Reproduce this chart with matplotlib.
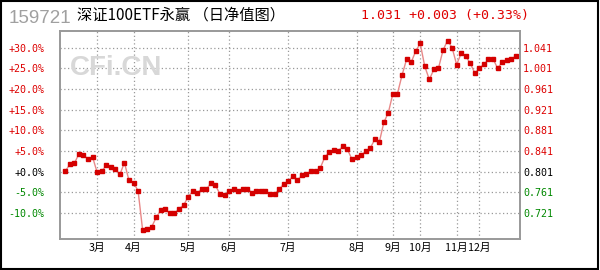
import matplotlib
matplotlib.use("Agg")
import matplotlib.pyplot as plt
from matplotlib.patches import Rectangle

# weekly NAV change (%)
pct = [0.1, 1.8, 2.0, 4.35, 4.1, 3.0, 3.55, -0.15, 0.1, 1.55,
       1.05, 0.7, -0.65, 2.2, -2.1, -2.65, -4.6, -14.1, -13.9, -13.3,
       -11.0, -9.3, -9.1, -10.05, -10.05, -8.95, -8.1, -6.05, -4.75, -5.2,
       -4.1, -4.25, -2.8, -3.3, -5.4, -5.7, -4.75, -4.25, -4.6, -4.1,
       -4.1, -5.05, -4.75, -4.75, -4.6, -5.4, -5.4, -4.25, -3.0, -2.3,
       -1.1, -2.0, -0.9, -0.65, 0.25, 0.1, 0.8, 3.45, 4.7, 5.3,
       5.05, 6.1, 5.4, 3.0, 3.45, 3.95, 4.9, 5.65, 7.8, 7.1,
       11.9, 14.3, 18.9, 18.9, 23.3, 27.15, 26.4, 29.1, 31.0, 25.45,
       22.3, 24.7, 24.95, 29.3, 31.7, 30.0, 25.9, 28.6, 27.9, 26.2,
       23.8, 25.0, 25.95, 27.15, 27.3, 25.0, 26.45, 26.9, 27.3, 27.9]

month_pos = [7, 15, 27, 36, 49, 64, 72, 78, 86, 91]
month_labels = ["3月", "4月", "5月", "6月", "7月", "8月", "9月", "10月", "11月", "12月"]

left_ticks = [30, 25, 20, 15, 10, 5, 0, -5, -10]
left_labels = ["+30.0%", "+25.0%", "+20.0%", "+15.0%", "+10.0%", "+5.0%", "+0.0%", "-5.0%", "-10.0%"]
right_labels = ["1.041", "1.001", "0.961", "0.921", "0.881", "0.841", "0.801", "0.761", "0.721"]

RED = "#dd0000"
GREEN = "#008800"
cjk = ["Noto Sans CJK SC", "DejaVu Sans"]

fig = plt.figure(figsize=(6, 2.7), dpi=100)
ax = fig.add_axes([0.1, 0.1148, 0.7672, 0.7704])

x = list(range(len(pct)))
ax.plot(x, pct, color="#e88888", lw=1.0, zorder=3)
ax.plot(x, pct, ls="none", marker="s", ms=2.7, color="#d40000", mec="#d40000", zorder=4)

ax.set_xlim(-1.16, 100)
ax.set_ylim(-16.25, 34.0)

ax.set_yticks(left_ticks)
ax.set_yticklabels(left_labels, family="DejaVu Sans Mono", fontsize=7.2)
for t, v in zip(ax.get_yticklabels(), left_ticks):
    t.set_color(RED if v > 0 else (GREEN if v < 0 else "black"))
ax.tick_params(axis="y", length=0, pad=11)

ax.set_xticks(month_pos)
ax.set_xticklabels(month_labels, family=cjk, fontsize=7.7)
ax.tick_params(axis="x", length=0, pad=3)

ax2 = ax.twinx()
ax2.set_ylim(ax.get_ylim())
ax2.set_yticks(left_ticks)
ax2.set_yticklabels(right_labels, family="DejaVu Sans Mono", fontsize=7.2)
for t, v in zip(ax2.get_yticklabels(), left_ticks):
    t.set_color(RED if v > 0 else (GREEN if v < 0 else "black"))
ax2.tick_params(axis="y", length=0, pad=2)

ax.grid(True, color="#999999", ls=(0, (1, 2)), lw=0.9)
for a in (ax, ax2):
    for s in a.spines.values():
        s.set_color("#999999")
        s.set_linewidth(1.2)

# watermark
fig.text(70 / 600, 1 - 75 / 270, "CFi.CN", family="Liberation Sans", weight="bold",
         fontsize=20, color="#d8d8d8", ha="left", va="baseline", zorder=0.5)

# header
fig.text(9 / 600, 1 - 23 / 270, "159721", family="Liberation Sans", fontsize=13.5,
         color="#a0a0a0", ha="left", va="baseline")
fig.text(77 / 600, 1 - 15 / 270, "深证100ETF永赢 （日净值图）", family=cjk, fontsize=11,
         color="black", ha="left", va="center")
fig.text(361 / 600, 1 - 15 / 270, "1.031 +0.003 (+0.33%)", family="DejaVu Sans Mono",
         fontsize=9.5, color="#e00000", ha="left", va="center")

fig.patches.append(Rectangle((0.002, 0.003), 0.995, 0.994, transform=fig.transFigure,
                             fill=False, ec="black", lw=1.5))

fig.savefig("out.png", dpi=100)
